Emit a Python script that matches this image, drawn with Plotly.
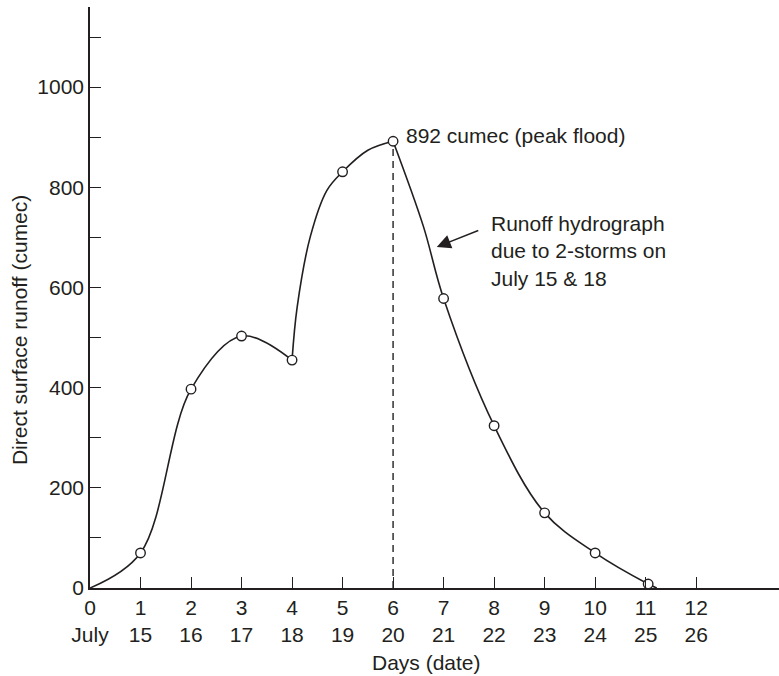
import plotly.graph_objects as go

# observed points (day, direct surface runoff in cumec)
days = [1, 2, 3, 4, 5, 6, 7, 8, 9, 10, 11.05]
runoff = [70, 397, 503, 455, 831, 892, 578, 324, 150, 70, 8]

# hydrograph in three pieces (cusps at day 4 and at the peak)
rise_x = [0, 1, 2, 3, 4]
rise_y = [0, 70, 397, 503, 455]
second_x = [4, 4.1, 4.36, 4.69, 5, 5.5, 6]
second_y = [455, 560, 701, 794, 831, 874, 892]
fall_x = [6, 6.6, 7, 8, 9, 10, 11.05, 11.22]
fall_y = [892, 722, 578, 324, 150, 70, 8, 0]

tick_vals = list(range(13))
tick_text = ["0<br>July"] + [f"{d}<br>{d + 14}" for d in range(1, 13)]

ink = "#231f20"
fnt = dict(family="Liberation Sans, Arial, sans-serif", size=21, color=ink)

fig = go.Figure()
for xs, ys in [(rise_x, rise_y), (second_x, second_y), (fall_x, fall_y)]:
    fig.add_trace(go.Scatter(x=xs, y=ys, mode="lines",
                             line=dict(color=ink, width=1.6, shape="spline", smoothing=1),
                             hoverinfo="skip"))

# peak line
fig.add_trace(go.Scatter(x=[days[5], days[5]], y=[0, runoff[5]], mode="lines",
                         line=dict(color=ink, width=1.4, dash="7px,5px")))

fig.add_trace(go.Scatter(x=days, y=runoff, mode="markers",
                         marker=dict(symbol="circle", size=9.5, color="white",
                                     line=dict(color=ink, width=1.4))))

fig.add_annotation(x=days[5], y=runoff[5], text=f"{runoff[5]} cumec (peak flood)",
                   showarrow=False, xanchor="left", yanchor="middle", xshift=11, yshift=6,
                   font=fnt)
fig.add_annotation(x=6.865, y=681, ax=43, ay=-17, text="",
                   showarrow=True, arrowhead=2, arrowsize=2, arrowwidth=1.4,
                   arrowcolor=ink)
fig.add_annotation(x=7.9, y=673, text="Runoff hydrograph<br>due to 2-storms on<br>July 15 & 18",
                   showarrow=False, xanchor="left", yanchor="middle", align="left",
                   font=fnt)
# axis titles
fig.add_annotation(x=0.488, y=-0.129, xref="paper", yref="paper", text="Days (date)",
                   showarrow=False, xanchor="center", yanchor="middle", font=fnt)
fig.add_annotation(x=-0.103, y=0.444, xref="paper", yref="paper",
                   text="Direct surface runoff (cumec)", textangle=-90,
                   showarrow=False, xanchor="center", yanchor="middle", font=fnt)

fig.update_layout(
    width=779, height=676,
    margin=dict(l=90, r=0, t=7, b=88),
    plot_bgcolor="white", paper_bgcolor="white",
    showlegend=False,
    font=fnt,
    xaxis=dict(range=[0, 13.64], tickvals=tick_vals, ticktext=tick_text,
               ticks="inside", ticklen=11, tickwidth=1.4, tickcolor=ink,
               showline=True, linecolor=ink, linewidth=1.6, showgrid=False,
               zeroline=False, automargin=False),
    yaxis=dict(range=[0, 1160], tickvals=[0, 200, 400, 600, 800, 1000],
               ticks="inside", ticklen=11, tickwidth=1.4, tickcolor=ink,
               minor=dict(tickvals=[100, 300, 500, 700, 900, 1100], ticks="inside",
                          ticklen=11, tickwidth=1.4, tickcolor=ink),
               showline=True, linecolor=ink, linewidth=1.6, showgrid=False,
               zeroline=False, automargin=False),
)

# drop the page's default body margin so the figure sits at the window's corner
fig.write_html("out.html", config={"displayModeBar": False},
               post_script="document.body.style.margin='0';")
